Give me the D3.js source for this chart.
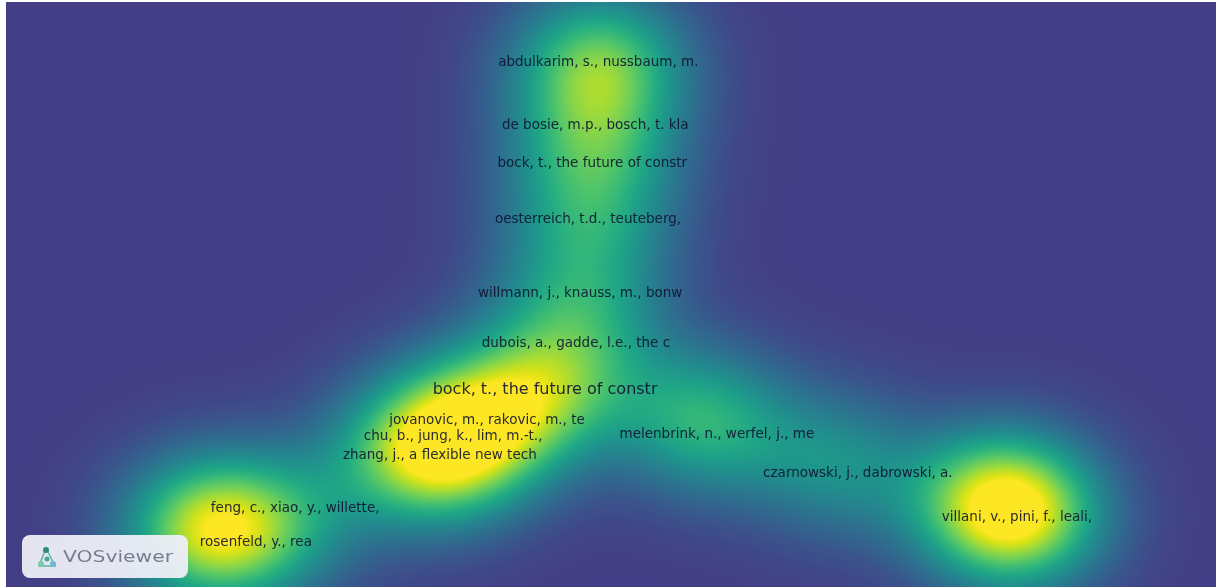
<!DOCTYPE html>
<html>
<head>
<meta charset="utf-8">
<script src="https://cdnjs.cloudflare.com/ajax/libs/d3/7.8.5/d3.min.js"></script>
<style>
  html, body { margin: 0; padding: 0; background: #ffffff; overflow: hidden; }
  #chart { position: absolute; left: 6px; top: 2px; width: 1210px; height: 585px; }
  #chart canvas, #chart svg { position: absolute; left: 0; top: 0; }
</style>
</head>
<body>
<div id="chart"></div>
<script>
// items shown with a label (VOSviewer map coordinates)
var labels = [
    "abdulkarim, s., nussbaum, m.",
    "de bosie, m.p., bosch, t. kla",
    "bock, t., the future of constr",
    "oesterreich, t.d., teuteberg,",
    "willmann, j., knauss, m., bonw",
    "dubois, a., gadde, l.e., the c",
    "bock, t., the future of constr",
    "jovanovic, m., rakovic, m., te",
    "chu, b., jung, k., lim, m.-t.,",
    "zhang, j., a flexible new tech",
    "melenbrink, n., werfel, j., me",
    "czarnowski, j., dabrowski, a.",
    "villani, v., pini, f., leali,",
    "feng, c., xiao, y., willette,",
    "rosenfeld, y., rea"
];
var mapX = [-0.021, -0.026, -0.031, -0.038, -0.051, -0.058, -0.109, -0.205, -0.261, -0.283, 0.175, 0.408, 0.671, -0.522, -0.587];
var mapY = [0.386, 0.282, 0.219, 0.126, 0.004, -0.079, -0.156, -0.206, -0.232, -0.264, -0.229, -0.293, -0.366, -0.351, -0.407];
var weights = [6.4, 2.6, 2.6, 3.2, 3, 2, 4.8, 4, 3, 4.5, 1.5, 2, 7, 2, 2];
var citations = [12, 8, 8, 9, 8, 7, 24, 9, 8, 9, 8, 7, 11, 8, 9];

// items whose labels VOSviewer hid because of overlap
var hiddenX = [-0.664, 0.140, 0.633, 0.339, -0.339];
var hiddenY = [-0.387, -0.200, -0.339, -0.268, -0.265];
var hiddenW = [8, 4, 5, 2, 3];

function init() {
    var w = 1210;
    var h = 585;
    var sigmaX = 60;
    var sigmaY = 50;
    var saturation = 10;

    var x = d3.scaleLinear().domain([-1, 1]).range([0, w]);
    var y = d3.scaleLinear().domain([0.4835, -0.4835]).range([0, h]);

    var points = [];
    for (var i = 0; i < labels.length; i++) {
        points.push({ px: x(mapX[i]), py: y(mapY[i]), w: weights[i] });
    }
    for (var j = 0; j < hiddenX.length; j++) {
        points.push({ px: x(hiddenX[j]), py: y(hiddenY[j]), w: hiddenW[j] });
    }

    var color = d3.scaleSequential(d3.interpolateViridis).domain([-0.22, 1]);

    var canvas = d3.select("#chart")
        .append("canvas")
        .attr("width", w)
        .attr("height", h);
    var ctx = canvas.node().getContext("2d");
    var img = ctx.createImageData(w, h);
    var sx2 = 2 * sigmaX * sigmaX;
    var sy2 = 2 * sigmaY * sigmaY;

    for (var py = 0; py < h; py++) {
        for (var px = 0; px < w; px++) {
            var dens = 0;
            for (var k = 0; k < points.length; k++) {
                var dx = px - points[k].px;
                var dy = py - points[k].py;
                dens += points[k].w * Math.exp(-(dx * dx) / sx2 - (dy * dy) / sy2);
            }
            var c = d3.rgb(color(Math.min(1, dens / saturation)));
            var idx = (py * w + px) * 4;
            img.data[idx] = c.r;
            img.data[idx + 1] = c.g;
            img.data[idx + 2] = c.b;
            img.data[idx + 3] = 255;
        }
    }
    ctx.putImageData(img, 0, 0);

    var svg = d3.select("#chart")
        .append("svg")
        .attr("width", w)
        .attr("height", h);

    var defs = svg.append("defs");
    defs.append("filter")
        .attr("id", "soft")
        .append("feGaussianBlur")
        .attr("stdDeviation", 0.5);

    var fontSize = d3.scaleThreshold().domain([20]).range([13.5, 16]);

    svg.append("g")
        .attr("filter", "url(#soft)")
        .selectAll("text")
        .data(labels)
        .enter()
        .append("text")
        .attr("x", function(d, i) { return x(mapX[i]); })
        .attr("y", function(d, i) { return y(mapY[i]); })
        .attr("text-anchor", "middle")
        .attr("dominant-baseline", "central")
        .style("font-family", "'DejaVu Sans', sans-serif")
        .style("font-size", function(d, i) { return fontSize(citations[i]) + "px"; })
        .style("fill", "#0f1430")
        .style("fill-opacity", 0.9)
        .text(function(d) { return d; });

    // VOSviewer logo
    var logo = svg.append("g").attr("transform", "translate(16,533)").attr("filter", "url(#soft)");
    logo.append("rect")
        .attr("width", 166)
        .attr("height", 43)
        .attr("rx", 8)
        .style("fill", "#eeeef8")
        .style("fill-opacity", 0.95);
    var icon = logo.append("g").attr("transform", "translate(15,11)");
    icon.append("path")
        .attr("d", "M9,2 L2,20 L18,20 Z")
        .style("fill", "none")
        .style("stroke", "#5bb8a0")
        .style("stroke-width", 1.5);
    icon.append("circle").attr("cx", 9).attr("cy", 4).attr("r", 3).style("fill", "#2e8a7a");
    icon.append("circle").attr("cx", 4).attr("cy", 18).attr("r", 3).style("fill", "#7cc8a8");
    icon.append("circle").attr("cx", 16).attr("cy", 18).attr("r", 3).style("fill", "#6fb7d0");
    icon.append("circle").attr("cx", 10).attr("cy", 13).attr("r", 2.5).style("fill", "#4aa88a");
    logo.append("text")
        .attr("x", 41)
        .attr("y", 22)
        .attr("dominant-baseline", "central")
        .attr("textLength", 110)
        .attr("lengthAdjust", "spacingAndGlyphs")
        .style("font-family", "'DejaVu Sans', sans-serif")
        .style("font-size", "15px")
        .style("fill", "#7c7c90")
        .text("VOSviewer");
}

window.onload = init;
</script>
</body>
</html>
